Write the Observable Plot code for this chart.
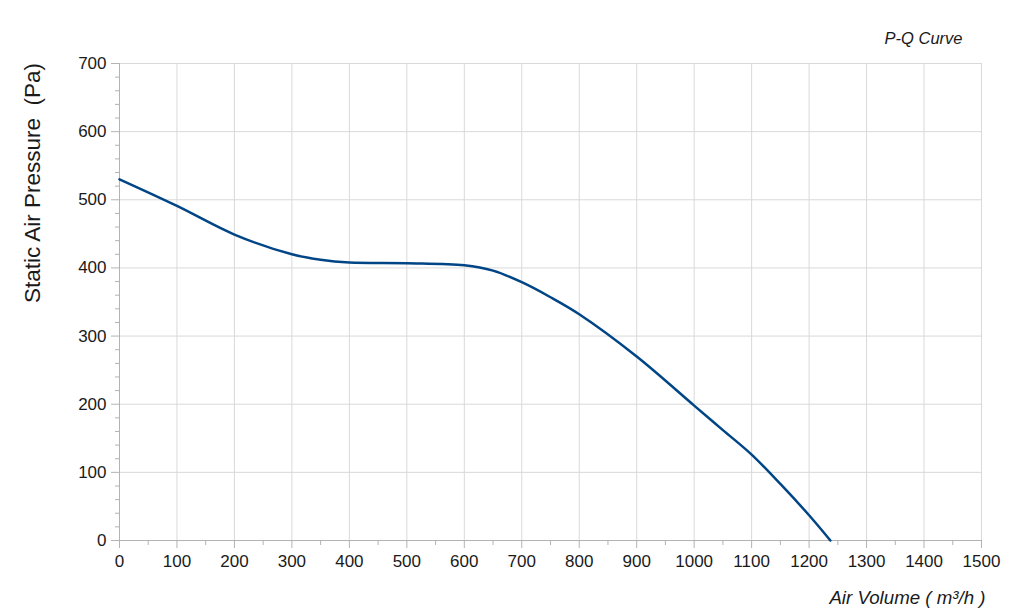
<!DOCTYPE html>
<html>
<head>
<meta charset="utf-8">
<script src="https://cdn.jsdelivr.net/npm/d3@7"></script>
<script src="https://cdn.jsdelivr.net/npm/@observablehq/plot@0.6"></script>
<style>
  html, body { margin: 0; padding: 0; background: #fff; }
  #chart svg { display: block; font-family: "Liberation Sans", Arial, sans-serif; }
</style>
</head>
<body>
<div id="chart"></div>
<script>
const airVolume = [0, 100, 200, 300, 350, 400, 500, 600, 650, 700, 750, 800, 900, 1000, 1050, 1100, 1150, 1200, 1237];
const pressure  = [530, 491, 449, 420, 412, 408, 407, 404, 396, 379, 357, 332, 270, 198, 162, 126, 83, 37, 0];
const xTicks = [0, 100, 200, 300, 400, 500, 600, 700, 800, 900, 1000, 1100, 1200, 1300, 1400, 1500];
const xMinor = [50, 150, 250, 350, 450, 550, 650, 750, 850, 950, 1050, 1150, 1250, 1350, 1450];
const yTicks = [0, 100, 200, 300, 400, 500, 600, 700];
const yMinor = [20, 40, 60, 80, 120, 140, 160, 180, 220, 240, 260, 280, 320, 340, 360, 380, 420, 440, 460, 480, 520, 540, 560, 580, 620, 640, 660, 680];
const titleText = "P-Q Curve";
const xLabel = "Air Volume ( m³/h )";
const yLabel = "Static Air Pressure  (Pa)";

const data = airVolume.map((q, i) => ({q, p: pressure[i]}));

const chart = Plot.plot({
  width: 1024,
  height: 615,
  marginLeft: 119,
  marginRight: 43,
  marginTop: 63,
  marginBottom: 75,
  style: {fontFamily: "'Liberation Sans', Arial, sans-serif", background: "#fff"},
  x: {domain: [0, 1500]},
  y: {domain: [0, 700]},
  marks: [
    Plot.gridX(xTicks, {stroke: "#d9d9d9", strokeOpacity: 1, strokeWidth: 1}),
    Plot.gridY(yTicks, {stroke: "#d9d9d9", strokeOpacity: 1, strokeWidth: 1}),
    Plot.ruleY([0], {stroke: "#b3b3b3"}),
    Plot.ruleX([0], {stroke: "#b3b3b3"}),
    Plot.axisX(xTicks, {tickSize: 8, tickPadding: 6, fontSize: 17, stroke: "#b3b3b3", fill: "#1a1a1a", label: null, tickFormat: d => String(d)}),
    Plot.axisX(xMinor, {tickSize: 5, text: null, stroke: "#b3b3b3", label: null}),
    Plot.axisY(yTicks, {tickSize: 8, tickPadding: 5, fontSize: 17, stroke: "#b3b3b3", fill: "#1a1a1a", label: null, tickFormat: d => String(d)}),
    Plot.axisY(yMinor, {tickSize: 4, text: null, stroke: "#b3b3b3", label: null}),
    Plot.line(data, {x: "q", y: "p", curve: "catmull-rom", stroke: "#004586", strokeWidth: 2.5}),
    Plot.text([titleText], {text: d => d, frameAnchor: "top-right", textAnchor: "end", lineAnchor: "middle", dx: -19, dy: -25, fontSize: 16.5, fontStyle: "italic", fill: "#1a1a1a"}),
    Plot.text([xLabel], {text: d => d, frameAnchor: "bottom-right", textAnchor: "end", lineAnchor: "middle", dx: 4, dy: 58, fontSize: 18.7, fontStyle: "italic", fill: "#1a1a1a"}),
    Plot.text([yLabel], {text: d => d, frameAnchor: "left", textAnchor: "middle", lineAnchor: "middle", rotate: -90, dx: -87, dy: -119, fontSize: 22.5, fill: "#1a1a1a"})
  ]
});
document.getElementById("chart").appendChild(chart);
</script>
</body>
</html>
